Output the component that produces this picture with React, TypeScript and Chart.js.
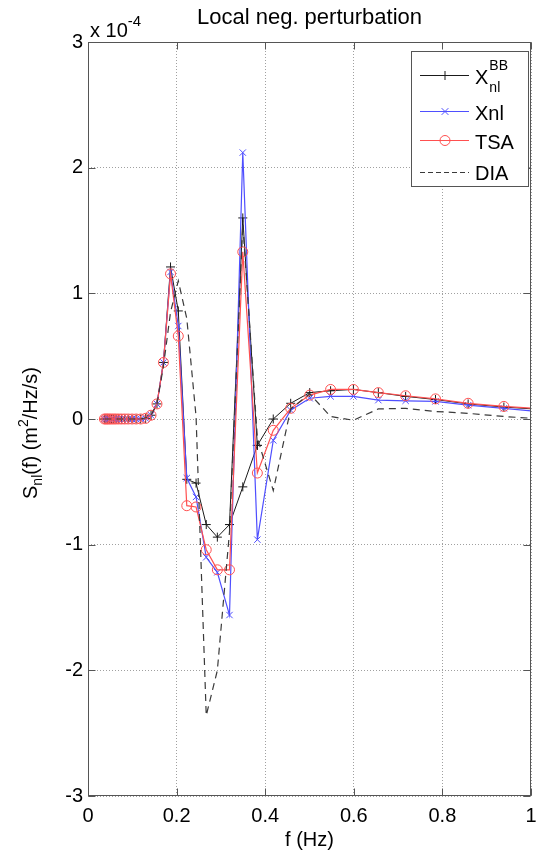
import React, { useEffect, useRef } from "react";
import { Chart, registerables } from "chart.js";
Chart.register(...registerables);

// frequencies (Hz)
const FREQ = [
  0.037, 0.0405, 0.0443, 0.0484, 0.053, 0.058, 0.0634, 0.0694, 0.0759, 0.083,
  0.0908, 0.0994, 0.1087, 0.1189, 0.1301, 0.1423, 0.1557, 0.1703, 0.1863, 0.2038,
  0.223, 0.2439, 0.2669, 0.292, 0.3194, 0.3494, 0.3823, 0.4182, 0.4575, 0.5005,
  0.5476, 0.5991, 0.6554, 0.717, 0.7844, 0.8581, 0.9388, 1.027,
];
// frequencies of the X_nl^BB trace: main curve, then (after a gap) the spike branch
const FREQ_BB = [
  0.037, 0.0405, 0.0443, 0.0484, 0.053, 0.058, 0.0634, 0.0694, 0.0759, 0.083,
  0.0908, 0.0994, 0.1087, 0.1189, 0.1301, 0.1423, 0.1557, 0.1703, 0.1863, 0.2038,
  0.223, 0.2439, 0.2669, 0.292, 0.3194, 0.3494, 0.3823, 0.4182, 0.4575, 0.5005,
  0.5476, 0.5991, 0.6554, 0.717, 0.7844, 0.8581, 0.9388, 1.027,
  0.3194, 0.3194, 0.3494, 0.3823,
];
// S_nl values in units of 1e-4 m^2/Hz/s
const XBB = [
  0, 0, 0, 0, 0, 0, 0, 0, 0, 0,
  0, 0, 0, 0, 0.005, 0.03, 0.12, 0.45, 1.21, 0.86,
  -0.48, -0.51, -0.84, -0.94, -0.84, -0.54, -0.21, 0.0, 0.125, 0.21,
  0.225, 0.235, 0.21, 0.18, 0.155, 0.12, 0.095, 0.075,
  null, -0.84, 1.6, -0.21,
];
const XNL = [
  0, 0, 0, 0, 0, 0, 0, 0, 0, 0,
  0, 0, 0, 0, 0.005, 0.03, 0.12, 0.45, 1.17, 0.74,
  -0.47, -0.62, -1.1, -1.22, -1.56, 2.12, -0.96, -0.17, 0.07, 0.165,
  0.18, 0.18, 0.15, 0.145, 0.14, 0.11, 0.085, 0.055,
];
const TSA = [
  0, 0, 0, 0, 0, 0, 0, 0, 0, 0,
  0, 0, 0, 0, 0.005, 0.03, 0.12, 0.45, 1.155, 0.66,
  -0.69, -0.7, -1.04, -1.2, -1.2, 1.33, -0.43, -0.09, 0.085, 0.19,
  0.235, 0.235, 0.21, 0.185, 0.16, 0.125, 0.1, 0.08,
];
const DIA = [
  0, 0, 0, 0, 0, 0, 0, 0, 0, 0,
  0, 0, 0, 0, 0.01, 0.03, 0.12, 0.42, 0.85, 1.1,
  0.8, 0.02, -2.36, -2.0, -0.9, 1.55, -0.15, -0.57, 0.08, 0.2,
  0.02, -0.01, 0.08, 0.085, 0.06, 0.045, 0.02, 0.0,
];
const X_TICKS = [0, 0.2, 0.4, 0.6, 0.8, 1];
const Y_TICKS = [-3, -2, -1, 0, 1, 2, 3];
const TITLE = "Local neg. perturbation";
const X_LABEL = "f (Hz)";

const W = 537;
const H = 856;
const FONT = '"Liberation Sans", Arial, sans-serif';
const C_BLACK = "#1a1a1a";
const C_BLUE = "#4f4fff";
const C_RED = "#ff5050";
const C_DASH = "#3a3a3a";

function pts(fs: number[], ys: (number | null)[]) {
  return fs.map((f, i) => ({ x: f, y: ys[i] }));
}

function font(size: number) {
  return `${size}px ${FONT}`;
}

function drawMarker(ctx: CanvasRenderingContext2D, kind: string, x: number, y: number, color: string) {
  ctx.save();
  ctx.strokeStyle = color;
  ctx.lineWidth = 1;
  ctx.beginPath();
  const r = 4.5;
  if (kind === "plus") {
    ctx.moveTo(x - r, y); ctx.lineTo(x + r, y);
    ctx.moveTo(x, y - r); ctx.lineTo(x, y + r);
  } else if (kind === "x") {
    const d = r * 0.75;
    ctx.moveTo(x - d, y - d); ctx.lineTo(x + d, y + d);
    ctx.moveTo(x - d, y + d); ctx.lineTo(x + d, y - d);
  } else if (kind === "o") {
    ctx.arc(x, y, 5, 0, Math.PI * 2);
  }
  ctx.stroke();
  ctx.restore();
}

function drawPieces(ctx: CanvasRenderingContext2D, pieces: { t: string; s: number; dy: number }[], x0: number, y0: number, center: boolean) {
  let total = 0;
  for (const p of pieces) { ctx.font = font(p.s); total += ctx.measureText(p.t).width; }
  let x = center ? x0 - total / 2 : x0;
  for (const p of pieces) {
    ctx.font = font(p.s);
    ctx.fillText(p.t, x, y0 + p.dy);
    x += ctx.measureText(p.t).width;
  }
}

const decor = {
  id: "decor",
  afterDraw(chart: any) {
    const { ctx, chartArea: a, scales } = chart;
    const xs = scales.x;
    const ys = scales.y;
    ctx.save();
    // frame
    ctx.strokeStyle = "#555";
    ctx.lineWidth = 1;
    ctx.setLineDash([]);
    const L = Math.round(a.left) + 0.5;
    const T = Math.round(a.top) + 0.5;
    const R = Math.round(a.right) - 0.5;
    const B = Math.round(a.bottom) - 0.5;
    ctx.strokeRect(L, T, R - L, B - T);
    // inward ticks
    ctx.beginPath();
    const tl = 7;
    for (const v of X_TICKS) {
      const px = Math.round(xs.getPixelForValue(v)) + 0.5;
      ctx.moveTo(px, B); ctx.lineTo(px, B - tl);
      ctx.moveTo(px, T); ctx.lineTo(px, T + tl);
    }
    for (const v of Y_TICKS) {
      const py = Math.round(ys.getPixelForValue(v)) + 0.5;
      ctx.moveTo(L, py); ctx.lineTo(L + tl, py);
      ctx.moveTo(R, py); ctx.lineTo(R - tl, py);
    }
    ctx.stroke();

    ctx.fillStyle = "#000";
    ctx.textBaseline = "alphabetic";
    ctx.textAlign = "left";
    // title
    ctx.font = font(22);
    const tw = ctx.measureText(TITLE).width;
    ctx.fillText(TITLE, (a.left + a.right) / 2 - tw / 2, 24);
    // x label
    ctx.font = font(20);
    const xw = ctx.measureText(X_LABEL).width;
    ctx.fillText(X_LABEL, (a.left + a.right) / 2 - xw / 2, 846);
    // exponent
    drawPieces(ctx, [
      { t: "x 10", s: 20, dy: 0 },
      { t: "-4", s: 15, dy: -11 },
    ], 90, 37, false);

    // y label rotated
    ctx.save();
    ctx.translate(37, 433);
    ctx.rotate(-Math.PI / 2);
    drawPieces(ctx, [
      { t: "S", s: 20, dy: 0 },
      { t: "nl", s: 14, dy: 5 },
      { t: "(f) (m", s: 20, dy: 0 },
      { t: "2", s: 14, dy: -9 },
      { t: "/Hz/s)", s: 20, dy: 0 },
    ], 0, 0, true);
    ctx.restore();

    // legend
    const lx = 411.5, ly = 51.5, lw = 117, lh = 135;
    ctx.fillStyle = "#fff";
    ctx.fillRect(lx, ly, lw, lh);
    ctx.strokeStyle = "#555";
    ctx.strokeRect(lx, ly, lw, lh);
    const sx0 = 420, sx1 = 469, mx = 445, tx = 475;
    const rows = [
      { y: 75, color: C_BLACK, m: "plus", dash: false },
      { y: 111, color: C_BLUE, m: "x", dash: false },
      { y: 140, color: C_RED, m: "o", dash: false },
      { y: 172, color: C_DASH, m: "", dash: true },
    ];
    for (const r of rows) {
      ctx.save();
      ctx.strokeStyle = r.color;
      ctx.lineWidth = 1.2;
      ctx.setLineDash(r.dash ? [5, 3] : []);
      ctx.beginPath();
      ctx.moveTo(sx0, r.y + 0.5);
      ctx.lineTo(sx1, r.y + 0.5);
      ctx.stroke();
      ctx.restore();
      if (r.m) drawMarker(ctx, r.m, mx, r.y + 0.5, r.color);
    }
    ctx.fillStyle = "#000";
    ctx.font = font(20);
    ctx.fillText("X", tx, 84);
    const xW = ctx.measureText("X").width;
    ctx.font = font(14);
    ctx.fillText("BB", tx + xW + 1, 70);
    ctx.fillText("nl", tx + xW + 1, 92);
    ctx.font = font(20);
    ctx.fillText("Xnl", tx, 120);
    ctx.fillText("TSA", tx, 149);
    ctx.fillText("DIA", tx, 180);
    ctx.restore();
  },
};

export default function App() {
  const ref = useRef<HTMLCanvasElement>(null);
  useEffect(() => {
    const canvas = ref.current!;
    const common = { showLine: true, fill: false, tension: 0, pointHoverRadius: 0, spanGaps: false };
    const chart = new Chart(canvas, {
      type: "scatter",
      data: {
        datasets: [
          {
            ...common,
            label: "XBB",
            data: pts(FREQ_BB, XBB),
            borderColor: C_BLACK,
            borderWidth: 1,
            pointStyle: "cross",
            pointRadius: 4.5,
            pointBorderColor: C_BLACK,
            pointBorderWidth: 1,
            pointBackgroundColor: "transparent",
            order: 3,
          },
          {
            ...common,
            label: "Xnl",
            data: pts(FREQ, XNL),
            borderColor: C_BLUE,
            borderWidth: 1.2,
            pointStyle: "crossRot",
            pointRadius: 4.5,
            pointBorderColor: C_BLUE,
            pointBorderWidth: 1,
            pointBackgroundColor: "transparent",
            order: 2,
          },
          {
            ...common,
            label: "TSA",
            data: pts(FREQ, TSA),
            borderColor: C_RED,
            borderWidth: 1.2,
            pointStyle: "circle",
            pointRadius: 5,
            pointBorderColor: C_RED,
            pointBorderWidth: 1,
            pointBackgroundColor: "transparent",
            order: 1,
          },
          {
            ...common,
            label: "DIA",
            data: pts(FREQ, DIA),
            borderColor: C_DASH,
            borderWidth: 1.2,
            borderDash: [7, 5],
            pointRadius: 0,
            order: 0,
          },
        ],
      },
      options: {
        animation: false,
        responsive: false,
        devicePixelRatio: 1,
        layout: { padding: { top: 42, right: 1, left: 0, bottom: 0 } },
        plugins: { legend: { display: false }, tooltip: { enabled: false }, title: { display: false } },
        events: [],
        scales: {
          x: {
            type: "linear",
            min: 0,
            max: 1,
            afterBuildTicks: (s: any) => { s.ticks = X_TICKS.map((v) => ({ value: v })); },
            afterFit: (s: any) => { s.height = 60; s.paddingLeft = 0; s.paddingRight = 0; },
            ticks: {
              autoSkip: false,
              maxRotation: 0,
              padding: 8,
              color: "#000",
              font: { family: FONT, size: 20 },
              callback: (v: any) => String(Number(v)),
            },
            grid: { color: "#a0a0a0", lineWidth: 1, drawTicks: false },
            border: { display: false, dash: [1, 2] },
          },
          y: {
            type: "linear",
            min: -3,
            max: 3,
            afterBuildTicks: (s: any) => { s.ticks = Y_TICKS.map((v) => ({ value: v })); },
            afterFit: (s: any) => { s.width = 88; s.paddingTop = 0; s.paddingBottom = 0; },
            ticks: {
              autoSkip: false,
              padding: 5,
              color: "#000",
              font: { family: FONT, size: 20 },
              callback: (v: any) => String(Number(v)),
            },
            grid: { color: "#a0a0a0", lineWidth: 1, drawTicks: false },
            border: { display: false, dash: [1, 2] },
          },
        },
      },
      plugins: [decor],
    } as any);
    return () => chart.destroy();
  }, []);
  return (
    <div style={{ position: "absolute", left: 0, top: 0, width: W, height: H, background: "#fff" }}>
      <canvas ref={ref} width={W} height={H} style={{ display: "block", width: W, height: H }} />
    </div>
  );
}
